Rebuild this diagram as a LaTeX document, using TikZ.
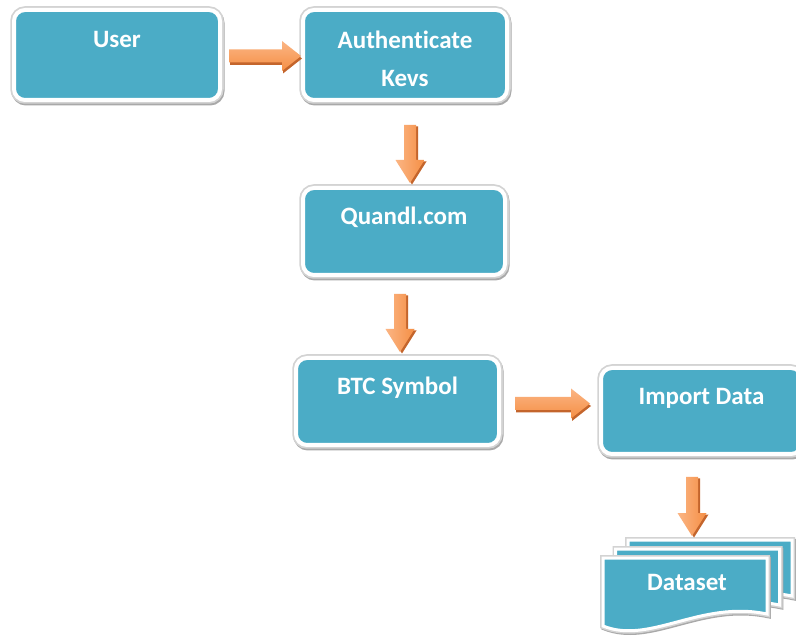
\documentclass[tikz,border=0pt]{standalone}
\usepackage{fontspec}
\setmainfont{Carlito}[Ligatures={NoCommon}]
\usetikzlibrary{calc}
\definecolor{boxblue}{HTML}{4BACC6}
\definecolor{arrlight}{HTML}{FBB584}
\definecolor{arrmid}{HTML}{F58F45}
\definecolor{arrdark}{HTML}{C4652C}
\definecolor{rim}{HTML}{D3D3D3}
\definecolor{rimdark}{HTML}{A9A9A9}
\tikzset{
  box/.style={rectangle, rounded corners=11pt, fill=boxblue, draw=white, line width=4pt,
    outer sep=0pt, inner sep=0pt,
    preaction={draw=rimdark, line width=7pt, transform canvas={shift={(1pt,-2pt)}}},
    preaction={draw=rim, line width=7.5pt}},
  docshape/.style={fill=boxblue, draw=white, line width=3pt,
    preaction={draw=rimdark, line width=5.5pt, transform canvas={shift={(1pt,-1.5pt)}}},
    preaction={draw=rim, line width=6pt}},
  lbl/.style={text=white, font=\fontsize{25}{30}\selectfont\bfseries, anchor=base, inner sep=0pt},
}
\newcommand\harrow[2]{%
  \path[fill=arrdark, transform canvas={shift={(1pt,-2.5pt)}}] let \p1=(#1), \p2=(#2) in
    (\x1,\y1+6.5pt) -- (\x2-19pt,\y1+6.5pt) -- (\x2-19pt,\y1+15pt) -- (\x2,\y1)
    -- (\x2-19pt,\y1-15pt) -- (\x2-19pt,\y1-6.5pt) -- (\x1,\y1-6.5pt) -- cycle;
  \path[top color=arrlight, bottom color=arrmid] let \p1=(#1), \p2=(#2) in
    (\x1,\y1+6.5pt) -- (\x2-19pt,\y1+6.5pt) -- (\x2-19pt,\y1+15pt) -- (\x2,\y1)
    -- (\x2-19pt,\y1-15pt) -- (\x2-19pt,\y1-6.5pt) -- (\x1,\y1-6.5pt) -- cycle;
}
\newcommand\varrow[2]{%
  \path[fill=arrdark, transform canvas={shift={(2pt,-1.5pt)}}] let \p1=(#1), \p2=(#2) in
    (\x1-6pt,\y1) -- (\x1-6pt,\y2+23pt) -- (\x1-14.5pt,\y2+23pt) -- (\x1,\y2)
    -- (\x1+14.5pt,\y2+23pt) -- (\x1+6pt,\y2+23pt) -- (\x1+6pt,\y1) -- cycle;
  \path[left color=arrlight, right color=arrmid] let \p1=(#1), \p2=(#2) in
    (\x1-6pt,\y1) -- (\x1-6pt,\y2+23pt) -- (\x1-14.5pt,\y2+23pt) -- (\x1,\y2)
    -- (\x1+14.5pt,\y2+23pt) -- (\x1+6pt,\y2+23pt) -- (\x1+6pt,\y1) -- cycle;
}
\newcommand\docoutline{(0,0) -- (164,0) -- (164,56) .. controls (97,42) and (47,87) .. (0,68) -- cycle}
\begin{document}
\begin{tikzpicture}[x=1pt, y=-1pt]
\useasboundingbox (0,0) rectangle (796,636);
\fill[white] (0,0) rectangle (796,636);
\clip (0,0) rectangle (796,636);

\node[box, minimum width=206pt, minimum height=90pt,
  label={[lbl, yshift=-38pt]north:User}] (user) at (117,55) {};
\node[box, minimum width=204pt, minimum height=90pt,
  label={[lbl, yshift=-39pt]north:Authenticate},
  label={[lbl, yshift=-77pt]north:Kevs}] (auth) at (405,55) {};
\node[box, minimum width=202pt, minimum height=87pt,
  label={[lbl, yshift=-37pt]north:Quandl.com}] (quandl) at (404,231.5) {};
\node[box, minimum width=203pt, minimum height=87pt,
  label={[lbl, yshift=-37pt]north:BTC Symbol}] (btc) at (397.5,401.5) {};
\node[box, minimum width=201pt, minimum height=86pt,
  label={[lbl, yshift=-37pt]north:Import Data}] (import) at (701.5,411) {};

\begin{scope}[shift={(628,540)}]
  \path[docshape] \docoutline;
\end{scope}
\begin{scope}[shift={(615.5,549)}]
  \path[docshape] \docoutline;
\end{scope}
\begin{scope}[shift={(603,558)}]
  \path[docshape] \docoutline;
\end{scope}
\node[rectangle, minimum width=164pt, minimum height=68pt, inner sep=0pt, outer sep=0pt,
  anchor=north west, label={[lbl, xshift=2pt, yshift=-32pt]north:Dataset}] (dataset) at (603,558) {};

\harrow{$(user.east)+(9,1)$}{$(auth.west)+(-2,0)$}
\varrow{$(auth.south)+(5,25)$}{$(quandl.north)+(0,-5)$}
\varrow{$(quandl.south)+(-4,19)$}{$(btc.north)+(0,-6)$}
\harrow{$(btc.east)+(16,2)$}{$(import.west)+(-11,0)$}
\varrow{$(import.south)+(-9.5,23)$}{$(dataset.north)+(0,-22)$}
\end{tikzpicture}
\end{document}
